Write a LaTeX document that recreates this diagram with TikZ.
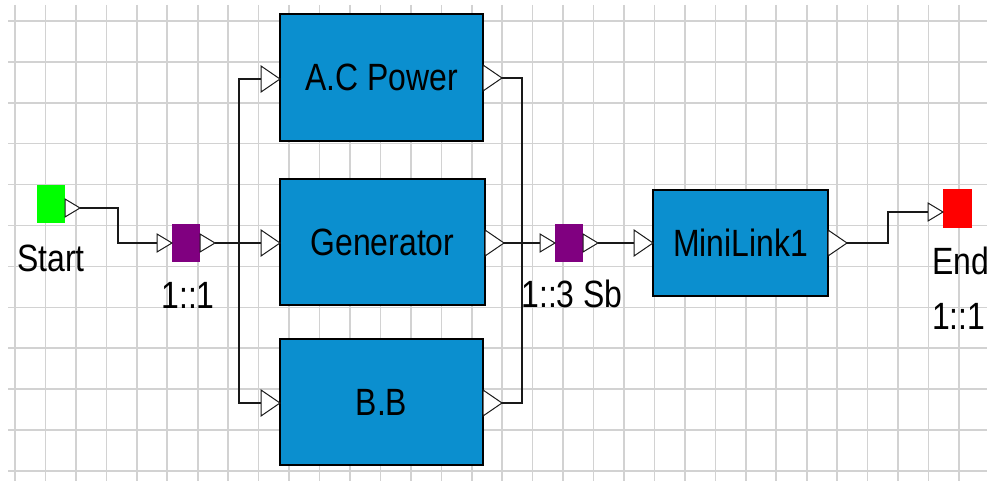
\documentclass[tikz,border=0pt]{standalone}
\usepackage{fontspec}
\usepackage{graphicx}
\setmainfont{Liberation Sans}
\usetikzlibrary{arrows.meta, positioning, shapes.geometric, calc}
\definecolor{azulbloque}{HTML}{0B8FCF}
\definecolor{moradonodo}{HTML}{800080}
\definecolor{verdeinicio}{HTML}{00FF00}
\definecolor{rojofin}{HTML}{FF0000}
\definecolor{grisrejilla}{HTML}{D2D2D2}
\colorlet{colLinea}{black!90}
\newcommand{\textoAngosto}[1]{\scalebox{0.84}[1]{#1}}
\tikzset{
  rejilla/.style={draw=grisrejilla, line width=1.6pt},
  bloque/.style={
    draw=black, line width=1.3pt, fill=azulbloque,
    inner sep=0pt, outer sep=0pt,
    font=\fontsize{38}{46}\selectfont
  },
  marcaBase/.style={minimum width=28, minimum height=38, inner sep=0pt, outer sep=0pt},
  marcaInicio/.style={marcaBase, fill=verdeinicio},
  marcaUnion/.style={marcaBase, fill=moradonodo},
  marcaFin/.style={marcaBase, fill=rojofin, minimum width=29, minimum height=39},
  puertoBase/.style={
    isosceles triangle, isosceles triangle stretches,
    draw=colLinea, fill=white, line width=1pt,
    inner sep=0pt, outer sep=0pt
  },
  puertoChico/.style={puertoBase, minimum width=18, minimum height=15},
  puertoGrande/.style={puertoBase, minimum width=26, minimum height=19},
  conector/.style={draw=colLinea, line width=1.4pt},
  etiqueta/.style={font=\fontsize{38}{55}\selectfont, inner sep=0pt, text=black},
}

\begin{document}
\begin{tikzpicture}[x=1pt, y=-1pt]
    \useasboundingbox (0,0) rectangle (987,481);
    \fill[white] (0,0) rectangle (987,481);
    \foreach \i in {0,...,31}
      \draw[rejilla] ({15+30.45*\i},5) -- ({15+30.45*\i},481);
    \foreach \j in {0,...,11}
      \draw[rejilla] (8,{21+40.9*\j}) -- (987,{21+40.9*\j});

    \node[bloque, minimum width=203, minimum height=127] (ac) at (381.5,77.5) {\textoAngosto{A.C Power}};
    \node[bloque, minimum width=205, minimum height=126] (gen) at (382.5,242) {\textoAngosto{Generator}};
    \node[bloque, minimum width=203, minimum height=126] (bb) at (381.5,402) {\textoAngosto{B.B}};
    \node[bloque, minimum width=175, minimum height=106] (mini) at (740.5,243) {\textoAngosto{MiniLink1}};

    \node[marcaInicio] (inicio) at (51,204) {};
    \node[marcaUnion] (union1) at (186,243) {};
    \node[marcaUnion] (union2) at (569,243) {};
    \node[marcaFin] (fin) at (957.5,208.5) {};

    \node[puertoChico, anchor=west] (inicioSal) at ($(inicio.east)+(0,4)$) {};
    \node[puertoChico, anchor=east] (union1Ent) at (union1.west) {};
    \node[puertoChico, anchor=west] (union1Sal) at (union1.east) {};
    \node[puertoChico, anchor=east] (union2Ent) at (union2.west) {};
    \node[puertoChico, anchor=west] (union2Sal) at (union2.east) {};
    \node[puertoChico, anchor=east] (finEnt) at ($(fin.west)+(0,3.5)$) {};
    \node[puertoGrande, anchor=east] (acEnt) at ($(ac.west)+(0,1.5)$) {};
    \node[puertoGrande, anchor=west] (acSal) at ($(ac.east)+(0,0.5)$) {};
    \node[puertoGrande, anchor=east] (genEnt) at (gen.west |- union1.center) {};
    \node[puertoGrande, anchor=west] (genSal) at (gen.east |- union2.center) {};
    \node[puertoGrande, anchor=east] (bbEnt) at ($(bb.west)+(0,1)$) {};
    \node[puertoGrande, anchor=west] (bbSal) at ($(bb.east)+(0,1)$) {};
    \node[puertoGrande, anchor=east] (miniEnt) at (mini.west) {};
    \node[puertoGrande, anchor=west] (miniSal) at (mini.east) {};

    \node[etiqueta, below=22pt of inicio] (etqInicio) {\textoAngosto{Start}};
    \node[etiqueta, below=20pt of union1, xshift=2pt] (etqUnion1) {\textoAngosto{1::1}};
    \node[etiqueta, below=18pt of union2, xshift=3pt] (etqUnion2) {\textoAngosto{1::3 Sb}};
    \node[etiqueta, anchor=north west, align=left] (etqFin) at (932,247) {\textoAngosto{End}\\\textoAngosto{1::1}};

    \draw[conector] (inicioSal.east) -- ++(38,0) |- (union1Ent.west);
    \draw[conector] (union1Sal.east) -- (genEnt.west);
    \draw[conector] (acEnt.west) -- ++(-22,0) |- (bbEnt.west);
    \draw[conector] (acSal.east) -- ++(20,0) |- (bbSal.east);
    \draw[conector] (genSal.east) -- (union2Ent.west);
    \draw[conector] (union2Sal.east) -- (miniEnt.west);
    \draw[conector] (miniSal.east) -- ++(41,0) |- (finEnt.west);
  \end{tikzpicture}
\end{document}
